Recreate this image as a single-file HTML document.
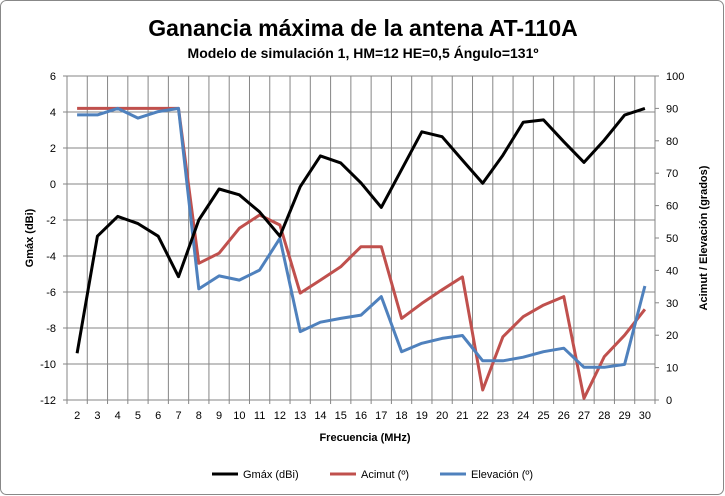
<!DOCTYPE html>
<html><head><meta charset="utf-8"><style>
html,body{margin:0;padding:0;background:#fff}
svg{display:block;font-family:"Liberation Sans",sans-serif}
</style></head><body>
<svg id="chart" width="725" height="496" viewBox="0 0 725 496" xmlns="http://www.w3.org/2000/svg">
<rect x="0.5" y="0.5" width="723" height="494" rx="6" fill="#fff" stroke="#888"/>
<text x="363" y="36" text-anchor="middle" font-size="23" font-weight="bold">Ganancia máxima de la antena AT-110A</text>
<text x="363" y="58" text-anchor="middle" font-size="14" font-weight="bold">Modelo de simulación 1, HM=12 HE=0,5 Ángulo=131º</text>
<g id="grid"></g>
<g id="axes"></g>
<g id="series"></g>
<text transform="translate(33,238) rotate(-90)" text-anchor="middle" font-size="11" font-weight="bold">Gmáx (dBi)</text>
<text transform="translate(707,238) rotate(-90)" text-anchor="middle" font-size="11" font-weight="bold">Acimut / Elevación  (grados)</text>
<text x="365" y="441" text-anchor="middle" font-size="11" font-weight="bold">Frecuencia (MHz)</text>
<g font-size="11">
<line x1="212" y1="474" x2="238" y2="474" stroke="#000" stroke-width="3"/><text x="243" y="478">Gmáx (dBi)</text>
<line x1="330" y1="474" x2="356" y2="474" stroke="#c0504d" stroke-width="3"/><text x="361" y="478">Acimut (º)</text>
<line x1="440" y1="474" x2="466" y2="474" stroke="#4f81bd" stroke-width="3"/><text x="471" y="478">Elevación (º)</text>
</g>
</svg>
<script>
const categories=[2,3,4,5,6,7,8,9,10,11,12,13,14,15,16,17,18,19,20,21,22,23,24,25,26,27,28,29,30];
const gmax=[-9.4,-2.9,-1.8,-2.2,-2.9,-5.15,-2.0,-0.28,-0.6,-1.55,-2.9,-0.15,1.56,1.17,0.06,-1.3,0.8,2.9,2.63,1.33,0.04,1.6,3.43,3.56,2.35,1.2,2.44,3.83,4.2];
const acimut=[90,90,90,90,90,90,42.2,45.3,53,57.1,54,33,37,41.1,47.3,47.3,25.2,29.8,34,38,3.1,19.5,25.7,29.3,31.9,0.5,13.4,20,28];
const elevacion=[88,88,90,87,89,90,34.3,38.3,37,40.1,49.9,21.1,24,25.2,26.2,31.9,14.9,17.5,19,19.9,12.1,12.1,13.2,14.9,16,10.1,10.1,11,35.2];
const leftTicks=[-12,-10,-8,-6,-4,-2,0,2,4,6];
const rightTicks=[0,10,20,30,40,50,60,70,80,90,100];
const L=67,R=655,T=76,B=400;
const bw=(R-L)/categories.length;
const xs=i=>L+(i+0.5)*bw;
const yL=v=>B-(v+12)/18*(B-T);
const yR=v=>B-v/100*(B-T);
const NS="http://www.w3.org/2000/svg";
function mk(tag,attrs,parent,txt){const e=document.createElementNS(NS,tag);for(const k in attrs)e.setAttribute(k,attrs[k]);if(txt!==undefined)e.textContent=txt;parent.appendChild(e);return e;}
const grid=document.getElementById('grid'),axes=document.getElementById('axes'),ser=document.getElementById('series');
leftTicks.forEach(t=>{const y=yL(t);
 const g=mk('line',{x1:L-4,x2:R,y1:y,y2:y,stroke:'#868686','stroke-width':1},grid);
 
 
 const tx=mk('text',{x:56,y:y+4,'text-anchor':'end','font-size':11},axes,String(t));
 
 });
rightTicks.forEach(t=>{const y=yR(t);
 const m=mk('line',{x1:R,x2:R+4,y1:y,y2:y,stroke:'#868686'},axes);
 
 
 const tx=mk('text',{x:666,y:y+4,'font-size':11},axes,String(t));
 
 });
for(let i=0;i<=categories.length;i++){const x=L+i*bw;
 const g=mk('line',{x1:x,x2:x,y1:T,y2:B+4,stroke:'#868686'},grid);
 
 }
categories.forEach((c,i)=>{const tx=mk('text',{x:xs(i),y:B+19,'text-anchor':'middle','font-size':11},axes,String(c));
 
 });
const ax=mk('line',{x1:L,x2:L,y1:T,y2:B,stroke:'#868686'},axes);


function line(vals,fy,color,name){const p=vals.map((v,i)=>xs(i).toFixed(1)+','+fy(v).toFixed(1)).join(' ');
 const e=mk('polyline',{points:p,fill:'none',stroke:color,'stroke-width':3,'stroke-linejoin':'round'},ser);
 
 }
line(acimut,yR,'#c0504d','acimut-line');
line(elevacion,yR,'#4f81bd','elevacion-line');
line(gmax,yL,'#000','gmax-line');
</script>
</body></html>
